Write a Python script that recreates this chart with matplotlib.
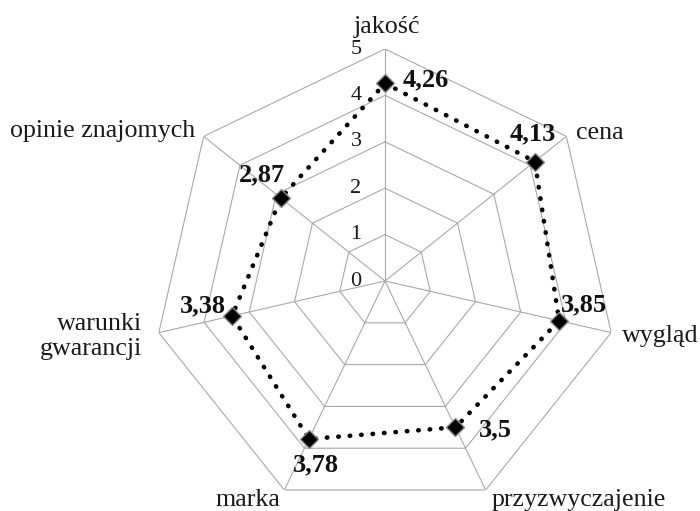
import numpy as np
import matplotlib
matplotlib.use("Agg")
import matplotlib.pyplot as plt

# data
categories = ["jakość", "cena", "wygląd", "przyzwyczajenie", "marka",
              "warunki\ngwarancji", "opinie znajomych"]
values = [4.26, 4.13, 3.85, 3.5, 3.78, 3.38, 2.87]
value_labels = ["4,26", "4,13", "3,85", "3,5", "3,78", "3,38", "2,87"]
rings = [0, 1, 2, 3, 4, 5]

# label placement (pixel offsets from the point / vertex)
value_offsets = [(18, 4), (-2, 28), (2, 16), (23, -2), (7, -26), (-6, 10), (-19, 23)]
value_ha = ["left", "center", "left", "left", "center", "right", "center"]
cat_offsets = [(2, 16), (10, -3), (11, -9), (6, -16), (-4, -16), (-17, -4), (-8, -1)]
cat_ha = ["center", "left", "left", "left", "right", "right", "right"]
cat_va = ["baseline", "baseline", "baseline", "baseline", "baseline", "center", "baseline"]

plt.rcParams["font.family"] = ["Liberation Serif", "DejaVu Serif"]

W, H = 700, 511
fig = plt.figure(figsize=(W / 100, H / 100), dpi=100)
cx, cy, R = 385, 281, 232
ax = fig.add_axes([(cx - R) / W, (H - cy - R) / H, 2 * R / W, 2 * R / H], projection="polar")
ax.set_theta_zero_location("N")
ax.set_theta_direction(-1)
ax.set_ylim(0, 5)
ax.set_axis_off()

n = len(categories)
theta = np.arange(n) * 2 * np.pi / n
closed = np.append(theta, theta[0])

grid_col = "#a8a8a8"
for r in rings[1:]:
    ax.plot(closed, [r] * (n + 1), color=grid_col, lw=0.8, zorder=1)
for t in theta:
    ax.plot([t, t], [0, rings[-1]], color=grid_col, lw=0.8, zorder=1)

for r in rings:
    ax.annotate(str(r), xy=(0, r), xytext=(-29, 0), textcoords="offset pixels",
                ha="center", va="center", fontsize=16, color="#1a1a1a")

vals = np.append(values, values[0])
ax.plot(closed, vals, color="black", lw=3.3, linestyle=(0, (0.1, 2.4)),
        dash_capstyle="round", zorder=3)
ax.plot(theta, values, linestyle="none", marker="D", markersize=9.5,
        markerfacecolor="black", markeredgecolor="#8a8a8a", markeredgewidth=1, zorder=4)

for t, v, lab, off, ha in zip(theta, values, value_labels, value_offsets, value_ha):
    ax.annotate(lab, xy=(t, v), xytext=off, textcoords="offset pixels",
                ha=ha, va="center", fontsize=19, fontweight="bold", color="#111111", zorder=5)

for t, lab, off, ha, va in zip(theta, categories, cat_offsets, cat_ha, cat_va):
    ax.annotate(lab, xy=(t, rings[-1]), xytext=off, textcoords="offset pixels",
                ha=ha, va=va, fontsize=18.7, color="#1a1a1a", multialignment="right",
                linespacing=1.15, annotation_clip=False)

fig.savefig("out.png", dpi=100)
